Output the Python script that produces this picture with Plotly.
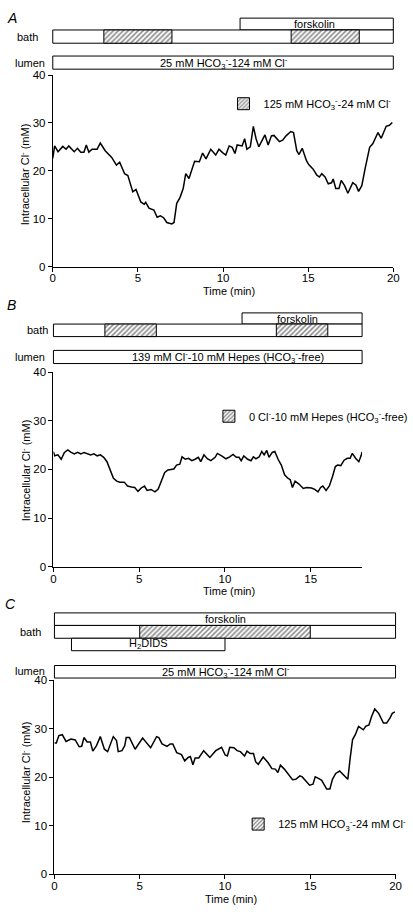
import plotly.graph_objects as go

# ---------------- data ----------------
tA = [0.0, 0.11, 0.31, 0.59, 0.78, 0.94, 1.26, 1.45, 1.64, 1.83, 1.97, 2.12, 2.31, 2.6, 2.79,
      3.08, 3.46, 3.74, 3.93, 4.22, 4.41, 4.7, 4.89, 5.17, 5.37, 5.46, 5.65, 5.94, 6.13, 6.32,
      6.51, 6.7, 6.99, 7.12, 7.28, 7.47, 7.66, 7.81, 8.0, 8.33, 8.61, 8.8, 9.0, 9.28, 9.57,
      9.76, 9.97, 10.16, 10.36, 10.54, 10.7, 10.83, 11.12, 11.27, 11.4, 11.6, 11.78, 11.94,
      12.1, 12.46, 12.65, 12.84, 12.99, 13.31, 13.5, 13.7, 13.98, 14.14, 14.33, 14.46, 14.65,
      14.9, 15.03, 15.28, 15.51, 15.66, 15.8, 15.99, 16.18, 16.37, 16.47, 16.62, 16.81, 16.94,
      17.14, 17.33, 17.62, 17.81, 17.96, 18.15, 18.34, 18.61, 18.8, 19.1, 19.29, 19.58, 19.77,
      19.94]
clA = [22.6, 25.2, 24.0, 25.1, 24.5, 25.2, 24.0, 24.7, 23.9, 23.9, 25.4, 23.9, 24.5, 24.5, 25.8,
       24.2, 22.8, 21.2, 21.8, 19.4, 19.0, 15.6, 16.1, 13.5, 13.0, 13.4, 12.2, 11.8, 10.3, 10.6,
       10.2, 9.2, 8.9, 9.2, 13.2, 14.4, 16.3, 19.4, 18.4, 22.0, 21.9, 23.7, 22.5, 24.5, 23.3,
       24.5, 23.8, 23.3, 25.2, 24.9, 23.6, 25.4, 25.2, 26.7, 24.5, 25.0, 29.3, 26.7,
       25.0, 27.5, 25.4, 27.3, 27.4, 26.1, 26.4, 27.3, 28.2, 28.0, 24.2, 23.4, 24.7,
       22.1, 21.3, 20.4, 19.1, 18.7, 19.4, 18.7, 17.3, 17.5, 18.3, 16.3, 16.3, 18.0,
       16.9, 15.3, 17.5, 17.0, 15.7, 16.9, 20.4, 24.9, 25.7, 28.0, 26.8, 29.3, 29.5,
       30.1]

tB = [0.0, 0.07, 0.26, 0.45, 0.64, 0.84, 1.03, 1.22, 1.41, 1.6, 1.79, 1.98, 2.17, 2.36, 2.55,
      2.74, 2.93, 3.12, 3.31, 3.5, 3.69, 3.88, 4.13, 4.32, 4.55, 4.74, 4.93, 5.12, 5.31, 5.46,
      5.69, 5.92, 6.11, 6.3, 6.49, 6.68, 6.87, 7.02, 7.18, 7.37, 7.5, 7.69, 7.88, 8.07, 8.26,
      8.45, 8.59, 8.78, 8.97, 9.18, 9.43, 9.56, 9.81, 10.06, 10.28, 10.47, 10.67, 10.82, 10.95,
      11.1, 11.33, 11.52, 11.66, 11.81, 12.0, 12.15, 12.29, 12.44, 12.57, 12.76, 12.91, 13.1,
      13.29, 13.48, 13.67, 13.81, 13.94, 14.09, 14.32, 14.57, 14.76, 15.05, 15.24, 15.43, 15.58,
      15.71, 15.9, 16.09, 16.28, 16.44, 16.57, 16.76, 16.95, 17.14, 17.3, 17.43, 17.62, 17.81,
      17.94, 18.0]
clB = [23.65, 22.8, 23.0, 22.1, 23.5, 24.0, 23.5, 23.2, 23.5, 23.2, 23.5, 23.2, 23.0, 23.2, 22.8,
       23.0, 22.5, 21.6, 19.9, 18.2, 17.6, 17.4, 17.4, 16.6, 16.4, 16.3, 15.5, 16.2, 16.6, 15.7,
       15.9, 15.4, 16.0, 17.6, 19.4, 19.9, 20.1, 20.1, 20.9, 21.1, 22.6, 22.1, 22.3, 21.8, 22.1,
       22.5, 21.6, 23.0, 22.2, 21.8, 22.5, 23.3, 22.8, 22.2, 22.6, 23.1, 22.5, 22.5, 21.8,
       22.8, 22.1, 21.8, 22.6, 22.2, 22.6, 23.7, 23.0, 23.9, 22.5, 23.5, 23.7, 22.1,
       20.9, 18.9, 18.2, 17.9, 16.3, 17.6, 17.0, 16.1, 16.3, 16.2, 15.9, 15.4, 16.3,
       16.6, 15.7, 16.6, 18.6, 20.6, 20.9, 20.8, 21.9, 22.3, 22.3, 23.3, 22.3, 21.6,
       22.8, 23.6]

tC = [0.0, 0.11, 0.26, 0.46, 0.68, 0.97, 1.22, 1.45, 1.6, 1.73, 1.92, 2.11, 2.25, 2.46, 2.69,
      2.93, 3.12, 3.45, 3.64, 3.74, 3.96, 4.12, 4.21, 4.4, 4.73, 5.17, 5.64, 5.99, 6.12, 6.31,
      6.6, 6.79, 6.94, 7.17, 7.45, 7.64, 7.84, 7.97, 8.12, 8.25, 8.46, 8.75, 8.98, 9.11, 9.46,
      9.8, 10.01, 10.14, 10.28, 10.52, 10.71, 10.9, 11.15, 11.29, 11.48, 11.67, 11.8, 11.95,
      12.24, 12.53, 12.75, 12.95, 13.1, 13.25, 13.48, 13.67, 13.96, 14.15, 14.39, 14.53, 14.78,
      14.96, 15.16, 15.29, 15.48, 15.67, 15.96, 16.15, 16.3, 16.49, 16.72, 16.91, 17.2, 17.33,
      17.48, 17.64, 17.83, 18.11, 18.25, 18.44, 18.59, 18.78, 19.01, 19.29, 19.48, 19.67, 19.81,
      19.96]
clC = [27.1, 27.1, 28.6, 28.8, 27.4, 27.9, 27.7, 26.3, 26.4, 28.2, 27.3, 27.3, 25.4, 26.5, 28.4,
       25.8, 25.3, 28.4, 27.6, 25.3, 25.5, 26.5, 28.2, 28.2, 25.8, 28.1, 26.1, 28.4, 28.2, 26.9,
       26.4, 26.9, 26.9, 25.1, 24.7, 23.4, 24.1, 24.3, 22.6, 24.0, 24.0, 25.5, 24.6, 24.1, 25.5,
       26.2, 24.6, 24.4, 26.2, 26.1, 25.5, 25.3, 24.4, 25.4, 24.9, 24.9, 23.2, 22.7,
       24.2, 23.0, 21.8, 21.7, 21.0, 22.5, 21.7, 20.8, 19.5, 19.6, 20.3, 20.1, 19.0,
       18.4, 18.6, 20.1, 19.8, 19.4, 17.6, 17.6, 19.6, 20.8, 21.3, 20.7, 19.6, 23.7,
       27.8, 28.8, 30.5, 29.8, 30.5, 30.8, 32.5, 34.1, 33.2, 31.2, 31.2, 32.2, 33.2,
       33.5]

# protocol bars (start, end) in min
A_forskolin = [(11, 20)]
A_bath = [(0, 20)]
A_hatched = [(3, 7), (14, 18)]
A_lumen = [(0, 20)]

B_forskolin = [(11, 18)]
B_bath = [(0, 18)]
B_hatched = [(3, 6), (13, 16)]
B_lumen = [(0, 18)]

C_forskolin = [(0, 20)]
C_bath = [(0, 20)]
C_hatched = [(5, 15)]
C_h2dids = [(1, 10)]
C_lumen = [(0, 20)]

x_ticks_A = [0, 5, 10, 15, 20]
x_ticks_B = [0, 5, 10, 15]
x_ticks_C = [0, 5, 10, 15, 20]
y_ticks = [0, 10, 20, 30, 40]

# ---------------- layout helpers ----------------
W, H = 413, 912
FONT = "Liberation Sans, Arial, Helvetica, sans-serif"


def px(p):
    return p / W


def py(p):
    return 1 - p / H


fig = go.Figure()

panels = [
    dict(xp=(51, 400), xr=(0, 20), yp=(264, 70), ticks=x_ticks_A, t=tA, v=clA),
    dict(xp=(51.7, 368), xr=(0, 18), yp=(568.3, 371), ticks=x_ticks_B, t=tB, v=clB),
    dict(xp=(52.7, 402.3), xr=(0, 20), yp=(880, 683.3), ticks=x_ticks_C, t=tC, v=clC),
]

axis_common = dict(showline=True, linecolor="black", linewidth=1, ticks="outside",
                   ticklen=4, tickcolor="black", tickwidth=1, showgrid=False,
                   zeroline=False, tickfont=dict(size=11.5, color="black", family=FONT))

layout = dict(width=W, height=H, margin=dict(l=0, r=0, t=0, b=0),
              paper_bgcolor="white", plot_bgcolor="rgba(0,0,0,0)",
              barmode="overlay", font=dict(family=FONT, size=11, color="black"))

for i, p in enumerate(panels):
    n = "" if i == 0 else str(i + 1)
    layout["xaxis" + n] = dict(domain=[px(p["xp"][0]), px(p["xp"][1])], range=list(p["xr"]),
                               anchor="y" + n, tickvals=p["ticks"], ticklabelstandoff=-3,
                               **axis_common)
    layout["yaxis" + n] = dict(domain=[py(p["yp"][0]), py(p["yp"][1])], range=[0, 40],
                               anchor="x" + n, tickvals=y_ticks, **axis_common)
    fig.add_trace(go.Scatter(x=p["t"], y=p["v"], mode="lines",
                             line=dict(color="black", width=1.5),
                             xaxis="x" + n, yaxis="y" + n, showlegend=False,
                             hoverinfo="skip"))

# bar overlay axes (y value = pixel row)
bar_areas = [(4, 68), (306, 366), (610, 684)]
for i, p in enumerate(panels):
    k = str(i + 4)
    s = (p["xp"][1] - p["xp"][0]) / (p["xr"][1] - p["xr"][0])
    pad = 8
    layout["xaxis" + k] = dict(domain=[px(p["xp"][0] - pad), px(p["xp"][1] + pad)],
                               range=[p["xr"][0] - pad / s, p["xr"][1] + pad / s],
                               anchor="y" + k, visible=False)
    top, bot = bar_areas[i]
    layout["yaxis" + k] = dict(domain=[py(bot), py(top)], range=[bot, top],
                               anchor="x" + k, visible=False)

hatch = dict(shape="/", size=3.5, solidity=0.45, fgcolor="#111", bgcolor="white")


def add_bars(segs, row, ax, hatched=False, name=None, legend=None):
    top, bot = row
    for j, (a, b) in enumerate(segs):
        marker = dict(color="white", line=dict(color="black", width=1))
        if hatched:
            marker["pattern"] = hatch
        fig.add_trace(go.Bar(orientation="h", base=[a], x=[b - a], y=[(top + bot) / 2],
                             width=[bot - top], marker=marker,
                             xaxis="x" + ax, yaxis="y" + ax,
                             name=name or "", showlegend=bool(name) and j == 0,
                             legend=legend or "legend", hoverinfo="skip"))


HCO3 = "HCO<sub>3</sub><sup>-</sup>"
CL = "Cl<sup>-</sup>"

# Panel A bars
add_bars(A_forskolin, (12.3, 24.3), "4")
add_bars(A_bath, (24.3, 37.7), "4")
add_bars(A_hatched, (24.3, 37.7), "4", True, f"125 mM {HCO3}-24 mM {CL}", "legend")
add_bars(A_lumen, (50.7, 64), "4")
# Panel B bars
add_bars(B_forskolin, (311, 322.3), "5")
add_bars(B_bath, (322.3, 335), "5")
add_bars(B_hatched, (322.3, 335), "5", True, f"0 {CL}-10 mM Hepes ({HCO3}-free)", "legend2")
add_bars(B_lumen, (349, 362.3), "5")
# Panel C bars
add_bars(C_forskolin, (615, 627.7), "6")
add_bars(C_bath, (627.7, 640.7), "6")
add_bars(C_hatched, (627.7, 640.7), "6", True, f"125 mM {HCO3}-24 mM {CL}", "legend3")
add_bars(C_h2dids, (640.7, 653.3), "6")
add_bars(C_lumen, (668.3, 681), "6")

leg_common = dict(xanchor="left", yanchor="middle", bgcolor="rgba(0,0,0,0)",
                  font=dict(size=11, family=FONT, color="black"), borderwidth=0)
layout["legend"] = dict(x=px(226), y=py(99), **leg_common)
layout["legend2"] = dict(x=px(211), y=py(415.7), **leg_common)
layout["legend3"] = dict(x=px(241), y=py(829), **leg_common)

annotations = []


def ann(text, x, y, size=11, angle=0, italic=False):
    annotations.append(dict(text=f"<i>{text}</i>" if italic else text,
                            x=px(x), y=py(y), xref="paper", yref="paper",
                            showarrow=False, textangle=angle,
                            font=dict(size=size, family=FONT, color="black"),
                            xanchor="center", yanchor="middle"))


# panel letters
ann("A", 9, 12, 14, italic=True)
ann("B", 9, 303, 14, italic=True)
ann("C", 8, 606, 14, italic=True)
# row labels
ann("bath", 25.5, 31, 11)
ann("lumen", 28, 57.3, 11)
ann("bath", 35, 328.7, 11)
ann("lumen", 28, 355.7, 11)
ann("bath", 28, 634, 11)
ann("lumen", 28, 674, 11)
# bar texts
ann("forskolin", 319, 18.5, 11)
ann(f"25 mM {HCO3}-124 mM {CL}", 226.5, 57.3, 11)
ann("forskolin", 302, 316.7, 11)
ann(f"139 mM {CL}-10 mM Hepes ({HCO3}-free)", 231, 355.7, 11)
ann("forskolin", 228, 621.5, 11)
ann("H<sub>2</sub>DIDS", 149.5, 647, 11)
ann(f"25 mM {HCO3}-124 mM {CL}", 229, 674.7, 11)
# axis titles
ann("Time (min)", 232, 289, 11)
ann("Time (min)", 232, 592.5, 11)
ann("Time (min)", 234, 904.5, 11)
ann(f"Intracellular {CL} (mM)", 22, 170, 11, angle=-90)
ann(f"Intracellular {CL} (mM)", 23, 470, 11, angle=-90)
ann(f"Intracellular {CL} (mM)", 23, 776, 11, angle=-90)

layout["annotations"] = annotations
fig.update_layout(**layout)
fig.write_html("out.html", config={"displayModeBar": False},
               post_script="document.body.style.margin='0px';"
                           "document.body.style.overflow='hidden';")
